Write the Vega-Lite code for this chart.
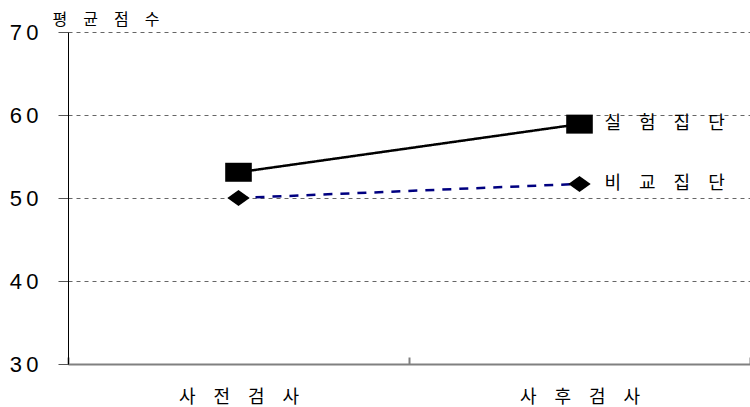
{
  "$schema": "https://vega.github.io/schema/vega-lite/v6.json",
  "width": 682,
  "height": 332,
  "autosize": {"type": "none"},
  "padding": {"left": 68, "top": 32, "right": 0, "bottom": 43},
  "background": "white",
  "config": {"view": {"stroke": null}},
  "data": {
    "values": [
      {"test": "사전검사", "group": "실험집단", "score": 53.1},
      {"test": "사후검사", "group": "실험집단", "score": 58.9},
      {"test": "사전검사", "group": "비교집단", "score": 50.0},
      {"test": "사후검사", "group": "비교집단", "score": 51.7}
    ]
  },
  "encoding": {
    "x": {
      "field": "test",
      "type": "nominal",
      "sort": ["사전검사", "사후검사"],
      "scale": {"type": "band", "paddingInner": 0, "paddingOuter": 0},
      "axis": {
        "title": null,
        "labelAngle": 0,
        "labelFont": "Noto Sans CJK KR",
        "labelFontSize": 18,
        "labelFontWeight": "normal",
        "labelColor": "#000000",
        "labelPadding": 31,
        "labelExpr": "join(split(datum.label, ''), '\u3000')",
        "tickBand": "extent",
        "tickSize": -7,
        "tickColor": "#808080",
        "tickWidth": 2,
        "domainColor": "#808080",
        "domainWidth": 2,
        "grid": false
      }
    },
    "y": {
      "field": "score",
      "type": "quantitative",
      "scale": {"domain": [30, 70], "nice": false, "zero": false},
      "axis": {
        "values": [30, 40, 50, 60, 70],
        "title": "평\u3000균\u3000점\u3000수",
        "titleAngle": 0,
        "titleFont": "Noto Sans CJK KR",
        "titleFontSize": 16,
        "titleFontWeight": "normal",
        "titleColor": "#000000",
        "titleAlign": "left",
        "titleBaseline": "middle",
        "titleX": -16,
        "titleY": -13,
        "labelFont": "Liberation Sans",
        "labelFontSize": 22,
        "labelColor": "#000000",
        "labelPadding": 20,
        "labelExpr": "slice(datum.label, 0, 1) + '\u2009' + slice(datum.label, 1)",
        "tickSize": 10,
        "tickColor": "#555555",
        "domainColor": "#000000",
        "domainWidth": 1,
        "grid": true,
        "gridColor": "#666666",
        "gridDash": [4, 4],
        "gridWidth": 1
      }
    }
  },
  "layer": [
    {
      "mark": {"type": "line", "strokeWidth": 2.5},
      "encoding": {
        "color": {
          "field": "group",
          "type": "nominal",
          "scale": {"domain": ["실험집단", "비교집단"], "range": ["#000000", "#000080"]},
          "legend": null
        },
        "strokeDash": {
          "field": "group",
          "type": "nominal",
          "scale": {"domain": ["실험집단", "비교집단"], "range": [[1, 0], [9, 8]]},
          "legend": null
        }
      }
    },
    {
      "mark": {"type": "point", "filled": true, "opacity": 1, "color": "#000000"},
      "encoding": {
        "shape": {
          "field": "group",
          "type": "nominal",
          "scale": {"domain": ["실험집단", "비교집단"], "range": ["M-1.4,-1L1.4,-1L1.4,1L-1.4,1Z", "M0,-1L1.4,0L0,1L-1.4,0Z"]},
          "legend": null
        },
        "size": {
          "field": "group",
          "type": "nominal",
          "scale": {"domain": ["실험집단", "비교집단"], "range": [361, 256]},
          "legend": null
        }
      }
    },
    {
      "transform": [
        {"filter": "datum.test === '사후검사'"},
        {"calculate": "join(split(datum.group, ''), '\u3000')", "as": "label"}
      ],
      "mark": {"type": "text", "align": "left", "baseline": "middle", "dx": 25, "font": "Noto Sans CJK KR", "fontSize": 18, "fontWeight": "normal", "color": "#000000"},
      "encoding": {"text": {"field": "label"}}
    }
  ]
}
